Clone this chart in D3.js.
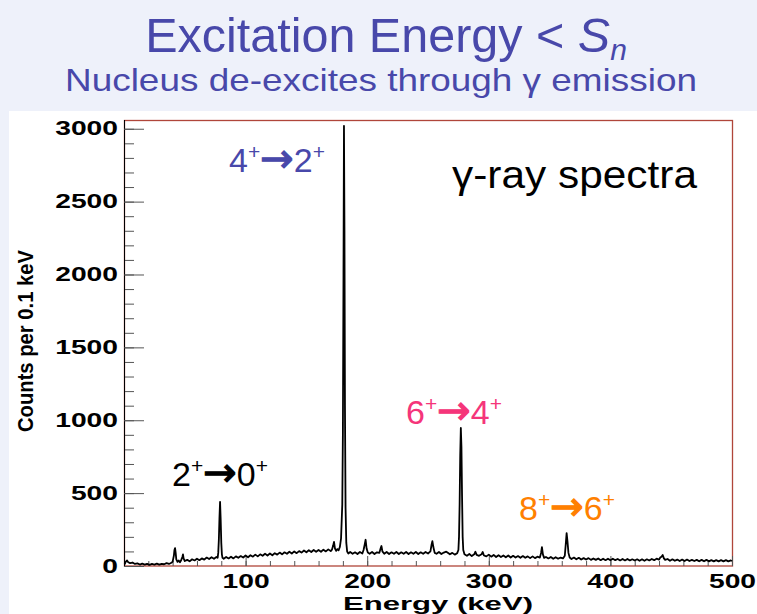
<!DOCTYPE html>
<html>
<head>
  <meta charset="utf-8">
  <title>Excitation Energy &lt; Sn</title>
  <script src="https://cdn.jsdelivr.net/npm/d3@7/dist/d3.min.js"></script>
  <style>
    body { margin: 0; background: #eef1fa; }
    svg text { font-family: "Liberation Sans", Arial, sans-serif; }
  </style>
</head>
<body>
<svg id="chart" width="757" height="614"></svg>
<script>
  // spectrum: [energy keV, counts per 0.1 keV]
  var spectrum = [
    [0.5,12],[1.5,30],[2.5,38],[3.5,26],[5,20],[7,24],[9,14],[11,18],[13,10],[15,16],[17,9],[19,15],
    [21,8],[23,14],[25,10],[27,16],[29,9],[31,15],[33,12],[35,20],[37,14],[39,22],
    [40,30],[41,70],[41.5,110],[42,123],[42.5,90],[43,45],[44,28],[45,38],[46,26],[47,40],[48,62],
    [48.5,80],[49,52],[50,34],[52,42],[54,32],[56,46],[58,38],[60,50],[62,40],[64,52],[66,44],
    [68,58],[70,48],[72,60],[74,50],[76,62],
    [77,56],[77.5,90],[78,180],[78.5,330],[79,440],[79.5,320],[80,160],[80.5,80],[81,56],
    [82,50],[84,62],[86,52],[88,64],[90,52],[92,66],[94,56],[96,68],[98,58],[100,72],[102,60],
    [104,74],[106,64],[108,78],[110,66],[112,80],[114,70],[116,84],[118,72],[120,86],[122,74],
    [124,88],[126,78],[128,92],[130,80],[132,94],[134,84],[136,98],[138,86],[140,100],[142,88],
    [144,102],[146,92],[148,106],[150,94],[152,108],[154,96],[156,110],[158,98],[160,110],[162,98],
    [164,112],[166,100],[168,114],[170,102],
    [171,112],[172,140],[172.7,165],[173.5,120],[174.5,104],[175.5,116],[176.5,108],[177.5,130],
    [178.5,190],[179.5,420],[180,900],[180.5,2000],[180.9,3020],[181.3,2300],[181.7,1100],
    [182.2,400],[182.8,160],[183.5,100],[184.5,86],
    [186,96],[188,84],[190,94],[192,82],[194,96],[196,86],[197,110],[198,150],[198.7,180],
    [199.5,120],[200.5,92],[202,84],[204,96],[206,82],[208,94],[210,90],[211,120],[211.7,137],
    [212.5,100],[214,84],[216,96],[218,82],[220,94],[222,84],[224,96],[226,82],[228,94],[230,84],
    [232,96],[234,82],[236,94],[238,84],[240,96],[242,82],[244,94],[246,84],[248,96],[250,86],
    [252,100],[253,150],[253.6,170],[254.4,130],[255.5,90],[257,84],[259,96],[261,82],[263,92],
    [265,98],[266,92],[268,80],[270,90],[272,78],[274,88],
    [275,110],[275.5,200],[276,420],[276.5,760],[277,947],[277.5,820],[278,480],[278.5,200],
    [279,110],[280,80],
    [282,70],[284,82],[286,68],[288,80],[289,98],[290,76],[292,70],[294,80],[295,96],[296,72],
    [298,66],[300,78],[302,64],[304,76],[306,62],[308,74],[310,62],[312,72],[314,60],[316,72],
    [318,58],[320,70],[322,58],[324,68],[326,56],[328,68],[330,56],[332,66],[334,54],[336,66],
    [338,54],[340,64],[342,58],[343,90],[343.7,130],[344.5,80],[345.5,56],[347,62],[349,52],
    [351,62],[353,50],[355,60],[357,50],[359,58],[361,52],
    [362.5,70],[363.3,150],[364,226],[364.7,170],[365.5,90],[366.5,58],
    [368,48],[370,58],[372,46],[374,56],[376,44],[378,54],[380,44],[382,54],[384,42],[386,52],
    [388,42],[390,52],[392,40],[394,50],[396,40],[398,50],[400,40],[402,50],[404,40],[406,48],
    [408,38],[410,48],[412,38],[414,48],[416,38],[418,46],[420,38],[422,46],[424,36],[426,46],
    [428,36],[430,46],[432,38],[434,48],[436,40],[438,50],[440,44],[441,58],[442,64],[443,75],
    [444,52],[445,42],[447,48],[449,36],[451,46],[453,36],[455,44],[457,34],[459,44],[461,34],
    [463,44],[465,34],[467,42],[469,34],[471,42],[473,32],[475,42],[477,32],[479,42],[481,32],
    [483,40],[485,32],[487,40],[489,32],[491,40],[493,32],[495,40],[497,32],[499,38],[500,34]
  ];

  var xTicks = [100, 200, 300, 400, 500];
  var yTicks = [0, 500, 1000, 1500, 2000, 2500, 3000];

  // transition labels: parts are [text, isSuperscript]
  var transitions = [
    {parts: [['4', 0], ['+', 1], ['\u2192', 0], ['2', 0], ['+', 1]], x: 229, y: 172, color: '#4848aa'},
    {parts: [['2', 0], ['+', 1], ['\u2192', 0], ['0', 0], ['+', 1]], x: 172, y: 486, color: '#000000'},
    {parts: [['6', 0], ['+', 1], ['\u2192', 0], ['4', 0], ['+', 1]], x: 406, y: 424, color: '#f5357a'},
    {parts: [['8', 0], ['+', 1], ['\u2192', 0], ['6', 0], ['+', 1]], x: 519, y: 520, color: '#ff8000'}
  ];

  var svg = d3.select('#chart');

  // slide background + white panel
  svg.append('rect').attr('width', 757).attr('height', 614).attr('fill', '#eef1fa');
  svg.append('rect').attr('x', 9).attr('y', 111).attr('width', 748).attr('height', 503).attr('fill', '#ffffff');

  // titles
  var title = svg.append('text')
      .attr('x', 386).attr('y', 52)
      .attr('text-anchor', 'middle')
      .attr('font-size', 48.5)
      .attr('fill', '#4848aa');
  title.append('tspan').text('Excitation Energy < ');
  title.append('tspan').attr('font-style', 'italic').text('S');
  title.append('tspan').attr('font-style', 'italic').attr('font-size', 30).attr('dy', 8).text('n');

  svg.append('text')
      .attr('x', 381).attr('y', 91)
      .attr('text-anchor', 'middle')
      .attr('font-size', 32)
      .attr('textLength', 632)
      .attr('lengthAdjust', 'spacingAndGlyphs')
      .attr('fill', '#4848aa')
      .text('Nucleus de-excites through \u03b3 emission');

  var x = d3.scaleLinear().domain([0, 500]).range([124, 732]);
  var y = d3.scaleLinear().domain([0, 3060]).range([566, 120]);

  // frame
  svg.append('rect')
      .attr('x', 124.5).attr('y', 120.5)
      .attr('width', 608).attr('height', 445.5)
      .attr('fill', 'none')
      .attr('stroke', '#b0463a')
      .attr('stroke-width', 1.3);

  // minor ticks
  svg.append('g')
      .attr('transform', 'translate(124,0)')
      .call(d3.axisLeft(y).tickValues(d3.range(0, 3001, 100)).tickSize(-10).tickFormat(''))
      .call(function(g) { g.select('.domain').remove(); g.selectAll('line').attr('stroke', '#555'); });
  svg.append('g')
      .attr('transform', 'translate(0,566)')
      .call(d3.axisBottom(x).tickValues(d3.range(20, 500, 20)).tickSize(-5).tickFormat(''))
      .call(function(g) { g.select('.domain').remove(); g.selectAll('line').attr('stroke', '#555'); });

  // major axes
  var yAxis = svg.append('g')
      .attr('transform', 'translate(124,0)')
      .call(d3.axisLeft(y).tickValues(yTicks).tickSize(-20).tickPadding(6).tickFormat(d3.format('d')));
  yAxis.select('.domain').attr('stroke', '#000').attr('d', 'M0.5,566V120');
  yAxis.selectAll('line').attr('stroke', '#555');

  var xAxis = svg.append('g')
      .attr('transform', 'translate(0,566)')
      .call(d3.axisBottom(x).tickValues(xTicks).tickSize(-10).tickPadding(8).tickFormat(d3.format('d')));
  xAxis.select('.domain').remove();
  xAxis.selectAll('line').attr('stroke', '#555');

  svg.selectAll('.tick text')
      .attr('font-family', '"Liberation Sans", Arial, sans-serif')
      .attr('font-size', 19.5)
      .attr('font-weight', 'bold')
      .attr('fill', '#000')
      .attr('lengthAdjust', 'spacingAndGlyphs')
      .attr('textLength', function() { return this.textContent.length * 15.7; });

  // axis titles
  svg.append('text')
      .attr('transform', 'translate(33,341) rotate(-90)')
      .attr('text-anchor', 'middle')
      .attr('font-size', 22)
      .attr('font-weight', 'bold')
      .attr('textLength', 182)
      .attr('lengthAdjust', 'spacingAndGlyphs')
      .text('Counts per 0.1 keV');

  svg.append('text')
      .attr('x', 438).attr('y', 610)
      .attr('text-anchor', 'middle')
      .attr('font-size', 18.5)
      .attr('font-weight', 'bold')
      .attr('textLength', 190)
      .attr('lengthAdjust', 'spacingAndGlyphs')
      .text('Energy (keV)');

  // spectrum
  var line = d3.line()
      .x(function(d) { return x(d[0]); })
      .y(function(d) { return y(d[1]); });

  svg.append('path')
      .datum(spectrum)
      .attr('fill', 'none')
      .attr('stroke', '#000')
      .attr('stroke-width', 1.8)
      .attr('stroke-linejoin', 'round')
      .attr('d', line);

  // labels
  svg.append('text')
      .attr('x', 452).attr('y', 188)
      .attr('font-size', 38)
      .attr('textLength', 245)
      .attr('lengthAdjust', 'spacingAndGlyphs')
      .attr('fill', '#000')
      .text('\u03b3-ray spectra');

  transitions.forEach(function(t) {
    var txt = svg.append('text')
        .attr('x', t.x).attr('y', t.y)
        .attr('font-size', 34)
        .attr('fill', t.color);
    t.parts.forEach(function(p, i) {
      var prev = i > 0 ? t.parts[i - 1][1] : 0;
      var s = txt.append('tspan').text(p[0])
          .attr('dy', p[1] && !prev ? -13 : (!p[1] && prev ? 13 : 0));
      if (p[1]) s.attr('font-size', 21);
      if (p[0] === '\u2192') {
        s.attr('font-family', '"DejaVu Sans", sans-serif')
            .attr('font-size', 40)
            .attr('stroke', t.color)
            .attr('stroke-width', 1.2);
      }
    });
  });
</script>
</body>
</html>
